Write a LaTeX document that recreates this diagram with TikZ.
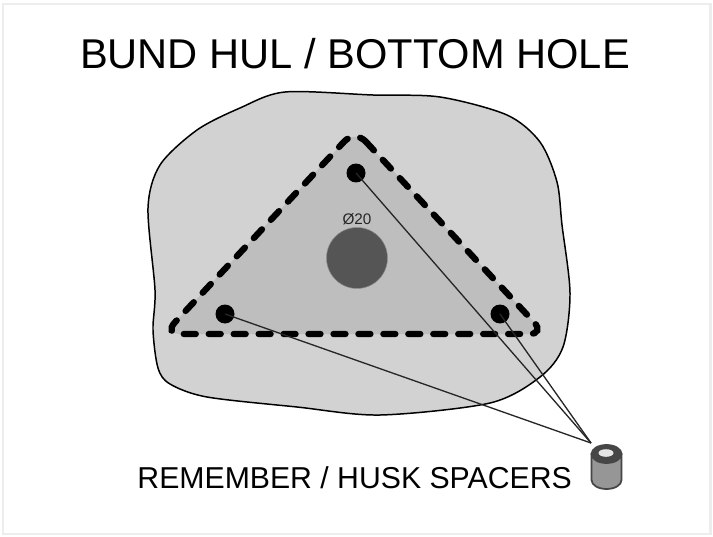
\documentclass[tikz,border=0pt]{standalone}
\usepackage{fontspec}
\setmainfont{Liberation Sans}
\usetikzlibrary{positioning, calc}
\definecolor{cmark}{RGB}{237,237,237}
\definecolor{cbund}{RGB}{210,210,210}
\definecolor{czone}{RGB}{190,190,190}
\definecolor{chole}{RGB}{85,85,85}
\definecolor{cskin}{RGB}{150,150,150}
\definecolor{crim}{RGB}{70,70,70}
\begin{document}
\begin{tikzpicture}[x=0.02cm, y=-0.02cm, font=\fontsize{23.7}{28}\selectfont,
    bolt/.style={circle, fill=black, inner sep=0pt, minimum size=0.38cm},
    wire/.style={draw=black!85, line width=0.75pt}]

  \useasboundingbox (0,0) rectangle (713,537);
  \draw[cmark, line width=1.7pt, fill=white] (3,4) rectangle (710,534);

  \node (title) at (355,54) {BUND HUL / BOTTOM HOLE};
  \node[font=\fontsize{17.2}{22}\selectfont, anchor=east] (spacertext) at (578,478) {REMEMBER / HUSK SPACERS};

  % bund outline
  \draw[fill=cbund, line width=0.85pt] plot[smooth cycle, tension=0.5] coordinates {
    (285,92) (373,95) (440,97) (507,115) (540,142) (557,182) (562,225) (570,293)
    (563,347) (540,377) (490,403) (380,415) (297,407) (207,397) (170,384)
    (158,368) (153,330) (155,290) (148,208) (160,165) (197,130) (240,108)};

  % zone
  \fill[czone, rounded corners=9pt] (355,130) -- (545,334) -- (164,334) -- cycle;
  \draw[line width=3.6pt, dash pattern=on 6.8pt off 7.4pt, line cap=round, rounded corners=9pt]
    (355,130) -- (545,334) -- (164,334) -- cycle;

  \node[circle, fill=chole, draw=black!45, line width=0.3pt, inner sep=0pt, minimum size=1.22cm] (hole) at (357,258) {};
  \node[font=\fontsize{8.7}{10}\selectfont, above=0pt of hole, inner sep=1pt, text=black!85] (holetext) {Ø20};

  \node[bolt] (bolta) at (356,173) {};
  \node[bolt] (boltb) at (225,314) {};
  \node[bolt] (boltc) at (500,314) {};

  % spacer
  \coordinate (tip) at (591,443);
  \draw[wire] (bolta.center) -- (tip);
  \draw[wire] (boltb.center) -- (tip);
  \draw[wire] (boltc.center) -- (tip);

  \draw[fill=cskin, draw=crim, line width=1pt] (591.5,454) -- (591.5,480)
    arc[start angle=180, end angle=0, x radius=15, y radius=9] -- (621.5,454) -- cycle;
  \draw[fill=crim, draw=crim, line width=1pt] (606.5,454) ellipse[x radius=15, y radius=9];
  \fill[black!10] (606,453) ellipse[x radius=7.5, y radius=3.8];
\end{tikzpicture}
\end{document}
